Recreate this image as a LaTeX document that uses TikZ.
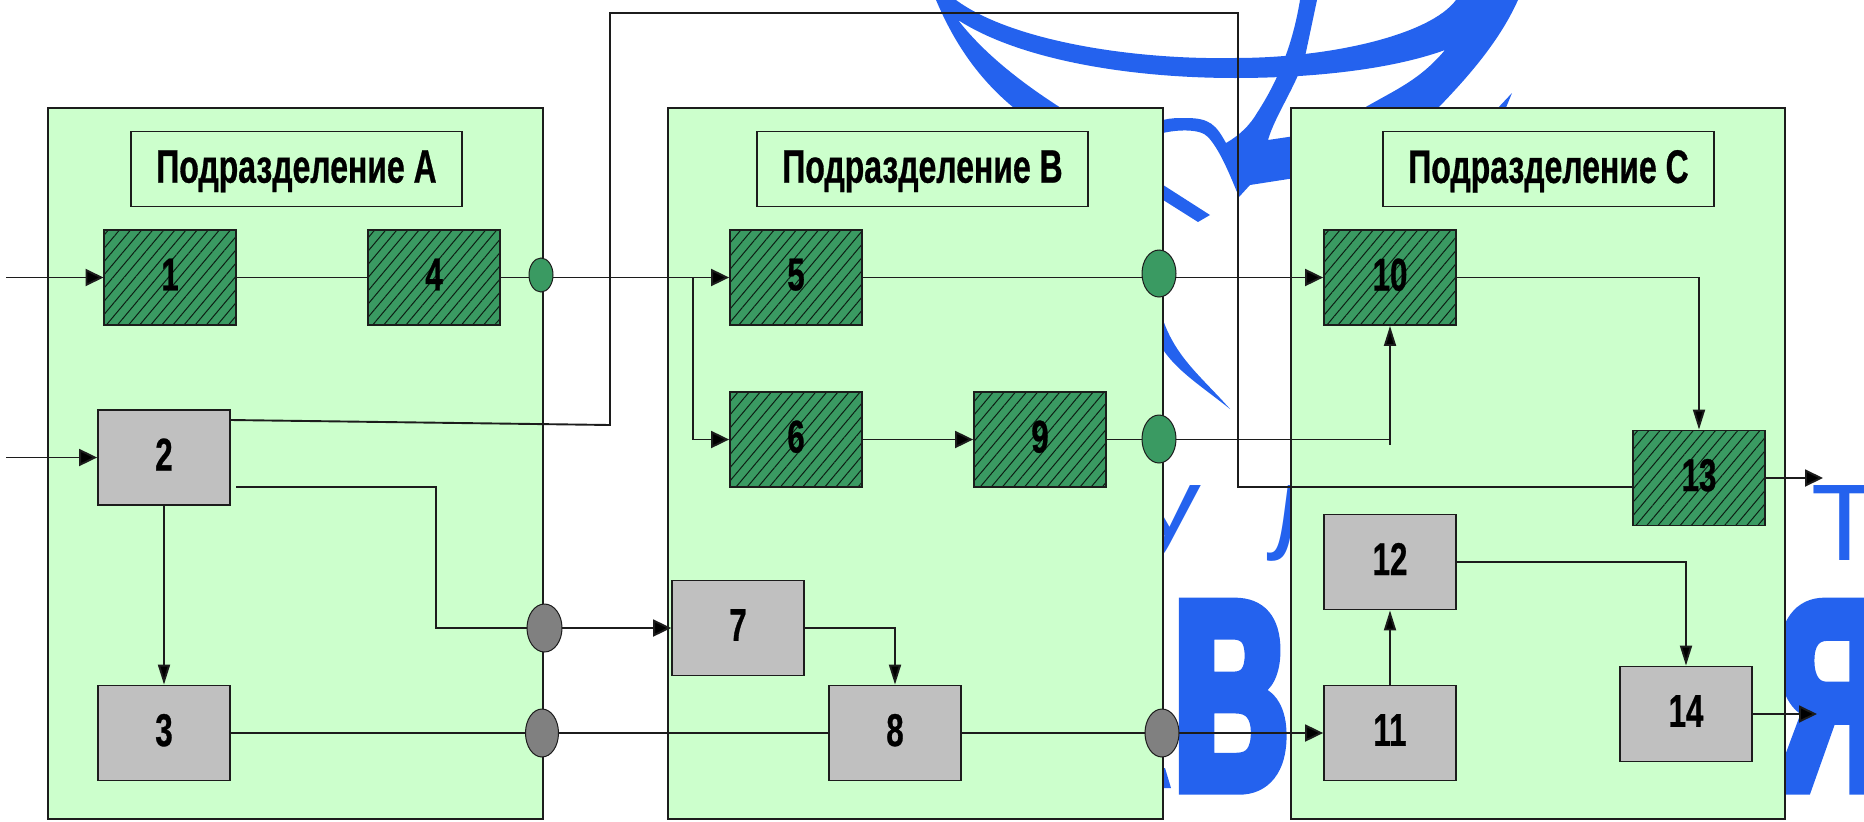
\documentclass[tikz,border=0pt]{standalone}
\usepackage{fontspec}
\setmainfont{Liberation Sans}
\newfontfamily\lab[FakeStretch=0.68,FakeBold=0.6]{Liberation Sans Bold}
\newfontfamily\heavy[FakeStretch=0.58,FakeBold=5]{Liberation Sans Bold}
\usetikzlibrary{arrows.meta,patterns.meta,shapes.geometric}
\definecolor{panelgreen}{HTML}{CCFFCC}
\definecolor{boxgreen}{HTML}{3A9A62}
\definecolor{boxgrey}{HTML}{C0C0C0}
\definecolor{ovalgrey}{HTML}{808080}
\definecolor{logoblue}{HTML}{2462EE}
\definecolor{ink}{HTML}{1C1C1C}
\tikzset{
  x=1pt,y=-1pt,
  panel/.style={draw=ink,fill=panelgreen,line width=1.8pt,minimum width=#1,minimum height=711,inner sep=0},
  titlebox/.style={draw=ink,line width=1.8pt,minimum width=331,minimum height=75,inner sep=0,text depth=5pt,font=\lab\fontsize{47}{47}\selectfont},
  basebox/.style={draw=ink,line width=1.8pt,minimum width=132,minimum height=95,inner sep=0,text depth=6pt,font=\lab\fontsize{46}{46}\selectfont},
  grey box/.style={basebox,fill=boxgrey},
  hatched/.style={basebox,preaction={fill=boxgreen},pattern={Lines[angle=50,distance=8.5pt,line width=1pt]},pattern color=black!80!boxgreen},
  oval/.style={ellipse,draw=ink,line width=1pt,inner sep=0,minimum width=#1},
  green oval/.style={oval=#1,fill=boxgreen},
  grey oval/.style={oval=#1,fill=ovalgrey},
  conn/.style={draw=ink,line width=1.9pt},
  arr/.style={conn,-{Triangle[length=18pt,width=17pt,fill=black]}},
  varr/.style={conn,-{Triangle[length=20pt,width=12pt,fill=black]}},
  letter/.style={anchor=base,text=logoblue,inner sep=0,font=\fontsize{109}{109}\selectfont},
  bigletter/.style={anchor=base,text=logoblue,inner sep=0,font=\heavy\fontsize{267}{267}\selectfont},
}
\begin{document}
\begin{tikzpicture}
\useasboundingbox (0,0) rectangle (1864,822);
\clip (0,0) rectangle (1864,822);
% logo behind the panels
\fill[logoblue] (936,0) .. controls (955,45) and (980,80) .. (1014,108) -- (1061,108)
  .. controls (1025,85) and (985,55) .. (958,20)
  .. controls (1020,60) and (1130,78) .. (1235,78)
  .. controls (1310,78) and (1390,70) .. (1445,50)
  .. controls (1420,80) and (1395,90) .. (1364,108) -- (1438,108)
  .. controls (1470,75) and (1500,40) .. (1518,0) -- (1456,0)
  .. controls (1430,35) and (1330,58) .. (1235,58)
  .. controls (1130,60) and (1010,40) .. (956,0) -- cycle;
\fill[logoblue] (1300,0) .. controls (1295,30) and (1285,70) .. (1257,113)
  .. controls (1250,125) and (1240,135) .. (1226,143)
  .. controls (1216,125) and (1210,118) .. (1186,118)
  .. controls (1178,118) and (1170,118) .. (1163,120) -- (1163,133)
  .. controls (1175,130) and (1200,128) .. (1208,137)
  .. controls (1220,150) and (1230,175) .. (1239,197) -- (1250,185) -- (1295,178) -- (1295,136) -- (1268,140)
  .. controls (1275,115) and (1300,80) .. (1306,52) -- (1317,0) -- cycle;
\fill[logoblue] (1160,183) -- (1210,215) -- (1198,222) -- (1160,198) -- cycle;
\fill[logoblue] (1160,310) .. controls (1172,355) and (1200,375) .. (1230,409)
  .. controls (1200,385) and (1175,370) .. (1160,345) -- cycle;
\fill[logoblue] (1512,93) -- (1505,110) -- (1496,110) -- cycle;
\fill[logoblue] (1160,788) -- (1171,788) -- (1165,768) -- (1160,768) -- cycle;
\node[letter] (lu) at (1166,560) {У};
\node[letter] (ll) at (1302,560) {Л};
\node[letter] (lt) at (1845,560) {Т};
\node[bigletter] (lv) at (1231,788) {В};
\node[bigletter] (lya) at (1833,788) {Я};
% panels
\node[panel=495] (pa) at (295.5,463.5) {};
\node[panel=495] (pb) at (915.5,463.5) {};
\node[panel=494] (pc) at (1538,463.5) {};
\node[titlebox] (ta) at (296.5,169) {Подразделение A};
\node[titlebox] (tb) at (922.5,169) {Подразделение B};
\node[titlebox] (tc) at (1548.5,169) {Подразделение C};
% boxes
\node[hatched] (b1) at (170,277.5) {1};
\node[hatched] (b4) at (434,277.5) {4};
\node[grey box] (b2) at (164,457.5) {2};
\node[grey box] (b3) at (164,733) {3};
\node[hatched] (b5) at (796,277.5) {5};
\node[hatched] (b6) at (796,439.5) {6};
\node[hatched] (b9) at (1040,439.5) {9};
\node[grey box] (b7) at (738,628) {7};
\node[grey box] (b8) at (895,733) {8};
\node[hatched] (b10) at (1390,277.5) {10};
\node[hatched] (b13) at (1699,478) {13};
\node[grey box] (b12) at (1390,562) {12};
\node[grey box] (b11) at (1390,733) {11};
\node[grey box] (b14) at (1686,714) {14};
% free ends and bends
\coordinate (in1) at (6,277.5);
\coordinate (in2) at (6,457.5);
\coordinate (split) at (693,277.5);
\coordinate (longa) at (230.5,420);
\coordinate (longb) at (610,425);
\coordinate (longc) at (610,13);
\coordinate (longd) at (1238,13);
\coordinate (longe) at (1238,487);
\coordinate (lowa) at (236,487);
\coordinate (lowb) at (436,487);
\coordinate (lowc) at (436,628);
\coordinate (junc) at (1390,439.5);
\coordinate (juncb) at (1390,445);
\coordinate (out13) at (1823,478);
\coordinate (out14) at (1817,714);
% connectors
\draw[arr] (in1) -- (b1.west);
\draw[arr] (in2) -- (b2.west);
\draw[conn] (b1.east) -- (b4.west);
\draw[arr] (b4.east) -- (b5.west);
\draw[arr] (split) |- (b6.west);
\draw[arr] (b6.east) -- (b9.west);
\draw[arr] (b5.east) -- (b10.west);
\draw[varr] (b9.east) -| (b10.south);
\draw[conn] (junc) -- (juncb);
\draw[varr] (b10.east) -| (b13.north);
\draw[arr] (b13.east) -- (out13);
\draw[conn] (longa) -- (longb) -- (longc) -- (longd) -- (longe) -- (longe -| b13.west);
\draw[arr] (lowa) -- (lowb) -- (lowc) -- (b7.west);
\draw[varr] (b2.south) -- (b3.north);
\draw[conn] (b3.east) -- (b8.west);
\draw[varr] (b7.east) -| (b8.north);
\draw[arr] (b8.east) -- (b11.west);
\draw[varr] (b11.north) -- (b12.south);
\draw[varr] (b12.east) -| (b14.north);
\draw[arr] (b14.east) -- (out14);
% ovals on the panel edges
\node[green oval=24pt,minimum height=34pt] (oa1) at (541,275) {};
\node[grey oval=35pt,minimum height=48pt] (oa2) at (544.5,628) {};
\node[grey oval=33pt,minimum height=48pt] (oa3) at (542,733) {};
\node[green oval=34pt,minimum height=47pt] (ob1) at (1159,273.5) {};
\node[green oval=34pt,minimum height=48pt] (ob2) at (1159,439) {};
\node[grey oval=34pt,minimum height=48pt] (ob3) at (1162,733) {};
\end{tikzpicture}
\end{document}
